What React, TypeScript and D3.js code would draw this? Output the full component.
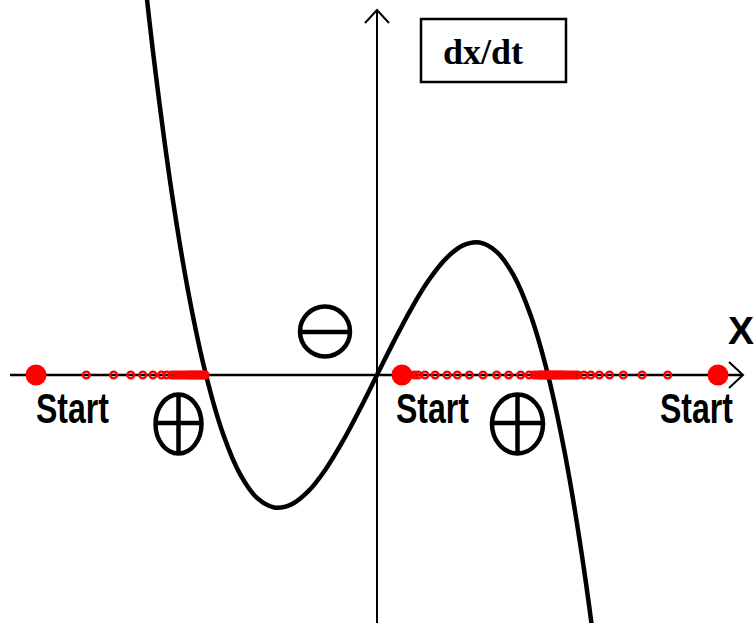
import React from "react";
import * as d3 from "d3";

// Curve dx/dt sampled (x in root units, y in arbitrary units)
const curveX = [-1.37, -1.3, -1.2, -1.1, -1.0, -0.9, -0.8, -0.7, -0.6, -0.5, -0.4, -0.3, -0.2, -0.1, 0, 0.1, 0.2, 0.3, 0.4, 0.5, 0.6, 0.7, 0.8, 0.9, 1.0, 1.1, 1.2, 1.3, 1.37];
const curveY = [1.201, 0.897, 0.528, 0.231, 0, -0.171, -0.288, -0.357, -0.384, -0.375, -0.336, -0.273, -0.192, -0.099, 0, 0.099, 0.192, 0.273, 0.336, 0.375, 0.384, 0.357, 0.288, 0.171, 0, -0.231, -0.528, -0.897, -1.201];

// Starting points
const startPoints = [-1.994, 0.146, 1.994];

// Trajectory positions (rings)
const leftTrajectory = [-1.7, -1.54, -1.44, -1.37, -1.31, -1.26, -1.23, -1.2, -1.185, -1.17, -1.155, -1.14, -1.125, -1.11, -1.1, -1.09, -1.08, -1.07, -1.06, -1.05, -1.04, -1.03, -1.02, -1.012, -1.005];
const middleTrajectory = [0.19, 0.22, 0.24, 0.28, 0.34, 0.41, 0.47, 0.54, 0.62, 0.7, 0.77, 0.84, 0.89, 0.92, 0.94, 0.95, 0.96, 0.97, 0.98, 0.99, 0.995];
const rightTrajectory = [1.7, 1.55, 1.44, 1.36, 1.3, 1.25, 1.21, 1.175, 1.16, 1.145, 1.13, 1.115, 1.1, 1.09, 1.08, 1.07, 1.06, 1.05, 1.04, 1.03, 1.02, 1.01, 1.005];

const startLabels = ["Start", "Start", "Start"];
const startLabelX = [36, 396, 660];

export default function App() {
  const W = 755;
  const H = 623;
  const x = d3.scaleLinear().domain([-1, 1]).range([206, 548]);
  const y = d3.scaleLinear().domain([0, 1]).range([375, 30]);
  const x0 = x(0);
  const y0 = y(0);

  const pts: [number, number][] = curveX.map((v, i) => [v, curveY[i]]);
  const line = d3
    .line<[number, number]>()
    .x((d) => x(d[0]))
    .y((d) => y(d[1]))
    .curve(d3.curveCatmullRom.alpha(0.5));

  const rings = [...leftTrajectory, ...middleTrajectory, ...rightTrajectory];

  const sans = "'Liberation Sans', Arial, sans-serif";

  return (
    <svg
      width={W}
      height={H}
      style={{ position: "absolute", left: 0, top: 0, background: "#fff" }}
    >
      <rect x={0} y={0} width={W} height={H} fill="#fff" />
      {/* axes */}
      <line x1={10} y1={y0} x2={743} y2={y0} stroke="#000" strokeWidth={2.5} />
      <polyline
        points={`729,${y0 - 13} 743,${y0} 729,${y0 + 13}`}
        fill="none"
        stroke="#000"
        strokeWidth={2}
      />
      <line x1={x0} y1={10} x2={x0} y2={H} stroke="#000" strokeWidth={2} />
      <polyline
        points={`${x0 - 12},23 ${x0},10 ${x0 + 12},23`}
        fill="none"
        stroke="#000"
        strokeWidth={2}
      />
      {/* curve */}
      <path d={line(pts) || ""} fill="none" stroke="#000" strokeWidth={4.5} />
      {/* trajectories */}
      {rings.map((v, i) => (
        <circle
          key={i}
          cx={x(v)}
          cy={y0}
          r={3.4}
          fill="none"
          stroke="#ff0000"
          strokeWidth={2.4}
        />
      ))}
      {startPoints.map((v, i) => (
        <circle key={"s" + i} cx={x(v)} cy={y0} r={10.5} fill="#ff0000" />
      ))}
      {/* labels */}
      {startLabels.map((t, i) => (
        <text
          key={"l" + i}
          x={startLabelX[i]}
          y={423}
          fontFamily={sans}
          fontWeight="bold"
          fontSize={42}
          textLength={73}
          lengthAdjust="spacingAndGlyphs"
          fill="#000"
        >
          {t}
        </text>
      ))}
      <text
        x={728}
        y={344}
        fontFamily={sans}
        fontWeight="bold"
        fontSize={39}
        fill="#000"
      >
        X
      </text>
      {/* dx/dt box */}
      <rect x={421} y={19} width={145} height={63} fill="#fff" stroke="#000" strokeWidth={2.5} />
      <text
        x={443}
        y={64}
        fontFamily="'Liberation Serif', 'Times New Roman', serif"
        fontWeight="bold"
        fontSize={35}
        textLength={80}
        lengthAdjust="spacingAndGlyphs"
        fill="#000"
      >
        dx/dt
      </text>
      {/* sign symbols */}
      <g fill="none" stroke="#000" strokeWidth={4.5}>
        <ellipse cx={325} cy={331.5} rx={25} ry={25} />
        <line x1={300} y1={332} x2={350} y2={332} />
        <ellipse cx={178.5} cy={424} rx={23} ry={29.5} />
        <line x1={178.5} y1={394.5} x2={178.5} y2={453.5} />
        <line x1={155.5} y1={423} x2={201.5} y2={423} />
        <ellipse cx={517.5} cy={424} rx={25.5} ry={29.5} />
        <line x1={517.5} y1={394.5} x2={517.5} y2={453.5} />
        <line x1={492} y1={423} x2={543} y2={423} />
      </g>
    </svg>
  );
}
